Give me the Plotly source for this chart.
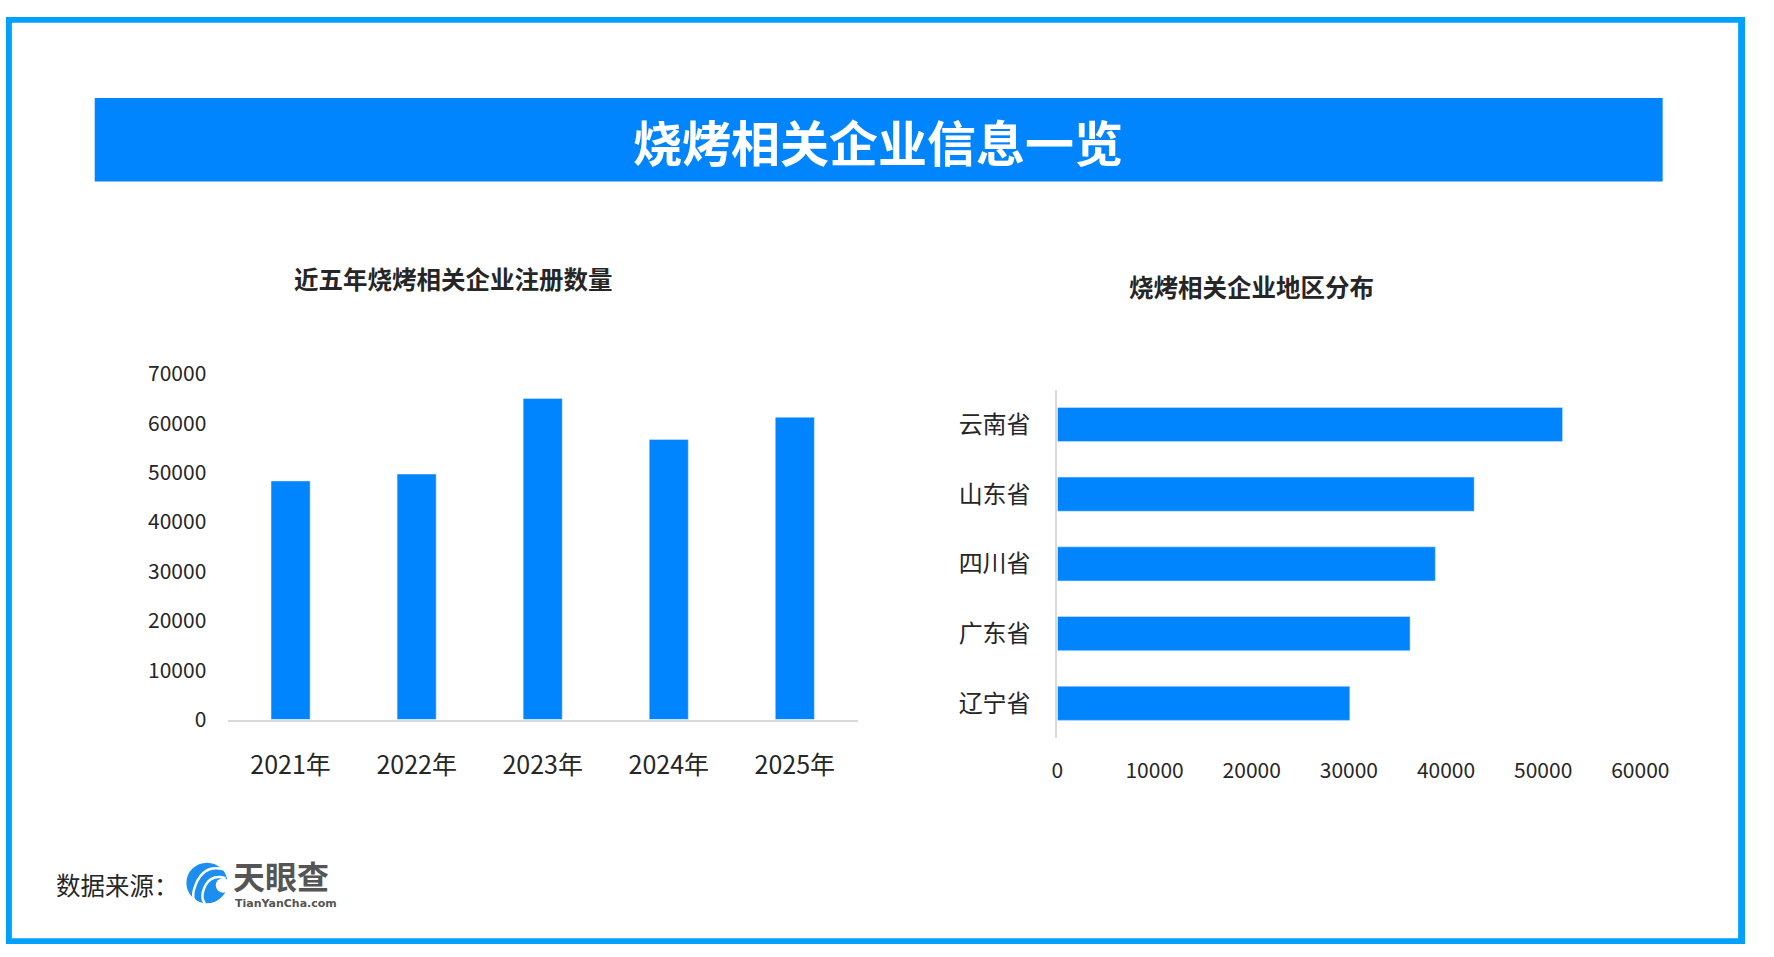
import plotly.graph_objects as go

# data
years = ["2021年", "2022年", "2023年", "2024年", "2025年"]
registrations = [48300, 49700, 65000, 56700, 61200]

provinces = ["云南省", "山东省", "四川省", "广东省", "辽宁省"]
province_counts = [52000, 42900, 38900, 36300, 30100]

W, H = 1774, 957
BLUE = "#0085FF"
FRAME = "#00A0FF"
TEXT = "#262626"
FONT = "Noto Sans CJK SC"


def px(x):
    return x / W


def py(y):
    return 1 - y / H


def rect(x0, y0, x1, y1, color):
    return dict(type="rect", xref="paper", yref="paper",
                x0=px(x0), x1=px(x1), y0=py(y1), y1=py(y0),
                line=dict(width=0), fillcolor=color, layer="above")


def label(text, x, y, size, color=TEXT, bold=False, xanchor="center", family=FONT):
    return dict(text=text, x=px(x), y=py(y), xref="paper", yref="paper",
                xanchor=xanchor, yanchor="middle", showarrow=False,
                font=dict(family=family, size=size, color=color,
                          weight="bold" if bold else "normal"))


fig = go.Figure()

# left chart: yearly registrations
fig.add_trace(go.Bar(
    x=years, y=registrations,
    marker_color=BLUE, width=0.31,
    xaxis="x", yaxis="y", showlegend=False
))

# right chart: by province (top to bottom)
fig.add_trace(go.Bar(
    x=province_counts, y=provinces,
    orientation="h",
    marker_color=BLUE, width=0.49,
    xaxis="x2", yaxis="y2", showlegend=False
))

shapes = [
    # outer frame
    rect(0, 0, W, 6, FRAME),
    rect(0, H - 6, W, H, FRAME),
    rect(0, 0, 6, H, FRAME),
    rect(W - 7, 0, W, H, FRAME),
    # title banner
    rect(90.5, 83.7, 1690, 169.7, BLUE),
    # logo circle
    dict(type="circle", xref="paper", yref="paper",
         x0=px(184), x1=px(226), y0=py(915), y1=py(873),
         line=dict(width=0), fillcolor="#1C8EF0"),
    # logo swirl lines
    dict(type="path", xref="paper", yref="paper",
         path=f"M {px(222)},{py(880)} Q {px(200)},{py(874)} {px(192)},{py(900)} Q {px(189)},{py(910)} {px(194)},{py(914)}",
         line=dict(color="white", width=2.5)),
    dict(type="path", xref="paper", yref="paper",
         path=f"M {px(224)},{py(889)} Q {px(206)},{py(884)} {px(201)},{py(903)} Q {px(199)},{py(911)} {px(203)},{py(915)}",
         line=dict(color="white", width=2.5)),
    dict(type="circle", xref="paper", yref="paper",
         x0=px(214), x1=px(229), y0=py(904), y1=py(889),
         line=dict(width=0), fillcolor="white"),
]

annotations = [
    label("烧烤相关企业信息一览", 890, 127, 49, color="white", bold=True),
    label("近五年烧烤相关企业注册数量", 456, 270, 24.5, bold=True),
    label("烧烤相关企业地区分布", 1271, 278, 24.5, bold=True),
    label("数据来源：", 49, 896, 24.5, xanchor="left"),
    label("天眼查", 230, 886, 32, color="#555555", bold=True, xanchor="left"),
    label("TianYanCha.com", 232, 915, 11, color="#555555", bold=True,
          xanchor="left", family="DejaVu Sans"),
]

fig.update_layout(
    width=W, height=H,
    margin=dict(l=0, r=0, t=0, b=0),
    paper_bgcolor="white", plot_bgcolor="white",
    font=dict(family=FONT, color=TEXT),
    shapes=shapes,
    annotations=annotations,
    xaxis=dict(
        domain=[px(226), px(869)], anchor="y",
        showline=True, linecolor="#D9D9D9", linewidth=2,
        showgrid=False, ticks="outside", ticklen=22, tickcolor="rgba(0,0,0,0)",
        tickfont=dict(size=25, color=TEXT), fixedrange=True
    ),
    yaxis=dict(
        domain=[py(725.3), py(368.3)], anchor="x",
        range=[0, 70000], dtick=10000, showgrid=False, zeroline=False,
        showline=False, ticks="outside", ticklen=16, tickcolor="rgba(0,0,0,0)",
        tickfont=dict(size=21, color=TEXT), tickformat="d", fixedrange=True
    ),
    xaxis2=dict(
        domain=[px(1072.6), px(1667.2)], anchor="y2",
        range=[0, 60000], dtick=10000, showgrid=False, zeroline=False,
        showline=False, ticks="outside", ticklen=14, tickcolor="rgba(0,0,0,0)",
        tickfont=dict(size=21, color=TEXT), tickformat="d", fixedrange=True
    ),
    yaxis2=dict(
        domain=[py(744.5), py(384.7)], anchor="x2",
        categoryorder="array", categoryarray=list(reversed(provinces)),
        showline=True, linecolor="#D9D9D9", linewidth=2,
        showgrid=False, ticks="outside", ticklen=20, tickcolor="rgba(0,0,0,0)",
        tickfont=dict(size=24, color=TEXT), fixedrange=True
    ),
)

# pin the figure to the window's top-left corner
pin = (
    "document.documentElement.style.margin='0';"
    "document.body.style.margin='0';document.body.style.overflow='hidden';"
    "var d=document.getElementById('{plot_id}');"
    "d.style.position='fixed';d.style.left='0px';d.style.top='0px';"
)
fig.write_html("out.html", config={"displayModeBar": False}, post_script=pin)
